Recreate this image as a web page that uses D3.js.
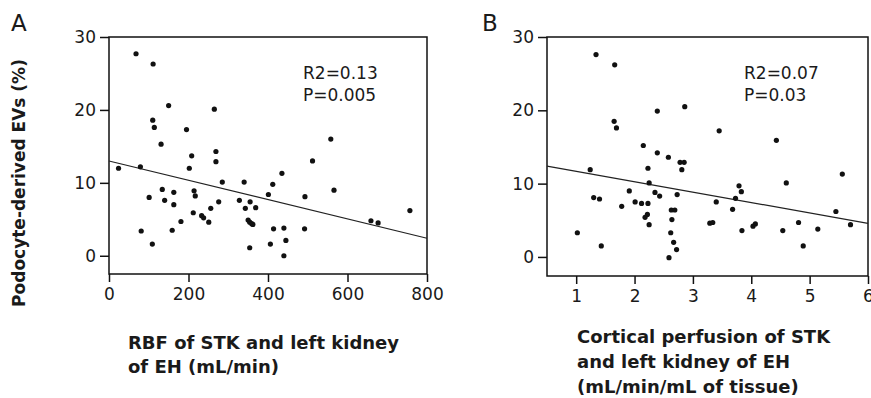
<!DOCTYPE html>
<html>
<head>
<meta charset="utf-8">
<script src="https://cdn.jsdelivr.net/npm/d3@7"></script>
<style>
  body { margin: 0; background: #fff; }
  svg text { font-family: "DejaVu Sans", "Liberation Sans", Arial, sans-serif; fill: #1a1a1a; }
</style>
</head>
<body>
<svg id="chart" width="871" height="398"></svg>
<script>
// panel A: RBF (mL/min) vs podocyte-derived EVs (%)
var rbf = [24, 68, 79, 81, 101, 111, 110, 114, 109, 131, 134, 140, 150, 159, 163, 163, 181, 195, 202, 208,
    214, 217, 212, 233, 238, 251, 256, 265, 269, 269, 276, 285, 328, 340, 343, 355, 350, 354, 359, 362,
    369, 354, 401, 412, 435, 414, 406, 440, 445, 440, 493, 492, 512, 558, 566, 659, 677, 757];
var evsA = [12.0, 27.7, 12.2, 3.4, 8.0, 26.3, 18.6, 17.6, 1.6, 15.3, 9.1, 7.6, 20.6, 3.5, 8.7, 7.0, 4.7, 17.3, 12.0, 13.7,
    8.9, 8.2, 5.9, 5.5, 5.2, 4.6, 6.5, 20.1, 14.3, 12.9, 7.4, 10.1, 7.6, 10.1, 6.5, 7.4, 4.9, 4.6, 4.4, 4.3,
    6.6, 1.1, 8.4, 9.8, 11.3, 3.7, 1.6, 3.8, 2.1, 0.0, 8.1, 3.7, 13.0, 16.0, 9.0, 4.8, 4.5, 6.2];
var fitA = { intercept: 13.0, slope: -0.01325 };
var statsA = ["R2=0.13", "P=0.005"];

// panel B: cortical perfusion vs podocyte-derived EVs (%)
var perf = [1.02, 1.24, 1.30, 1.40, 1.34, 1.43, 1.66, 1.65, 1.69, 1.78, 1.91, 2.01, 2.12, 2.15, 2.23, 2.22, 2.18, 2.25,
    2.23, 2.25, 2.35, 2.39, 2.39, 2.43, 2.58, 2.59, 2.62, 2.64, 2.63, 2.69, 2.67, 2.72, 2.73, 2.78, 2.85, 2.81,
    2.86, 3.29, 3.34, 3.40, 3.45, 3.68, 3.73, 3.79, 3.83, 3.84, 4.03, 4.07, 4.43, 4.54, 4.60, 4.81, 4.89, 5.14,
    5.45, 5.56, 5.70];
var evsB = [3.3, 11.9, 8.1, 7.9, 27.6, 1.5, 26.2, 18.5, 17.6, 6.9, 9.0, 7.5, 7.3, 15.2, 7.3, 5.8, 5.4, 4.4,
    12.1, 10.1, 8.8, 14.2, 19.9, 8.3, 13.6, -0.1, 3.3, 5.1, 6.4, 6.4, 2.0, 1.0, 8.5, 12.9, 12.9, 11.9,
    20.5, 4.6, 4.7, 7.5, 17.2, 6.5, 8.0, 9.7, 8.9, 3.6, 4.2, 4.5, 15.9, 3.6, 10.1, 4.7, 1.5, 3.8,
    6.2, 11.3, 4.4];
var fitB = { intercept: 13.1, slope: -1.42 };
var statsB = ["R2=0.07", "P=0.03"];

var yTicks = [0, 10, 20, 30];
var xTicksA = [0, 200, 400, 600, 800];
var xTicksB = [1, 2, 3, 4, 5, 6];

var svg = d3.select("#chart");

function draw_panel(p) {
    var x = d3.scaleLinear().domain(p.xDomain).range([p.left, p.right]);
    var y = d3.scaleLinear().domain(p.yDomain).range([p.bottom, p.top]);
    var g = svg.append("g");

    // frame
    g.append("rect")
        .attr("x", p.left)
        .attr("y", p.top)
        .attr("width", p.right - p.left)
        .attr("height", p.bottom - p.top)
        .style("fill", "none")
        .style("stroke", "#111")
        .style("stroke-width", 1.5);

    var yAxis = g.append("g")
        .attr("transform", "translate(" + p.left + ",0)")
        .call(d3.axisLeft(y).tickValues(yTicks).tickFormat(d3.format("d")).tickSize(9).tickPadding(4));
    var xAxis = g.append("g")
        .attr("transform", "translate(0," + p.bottom + ")")
        .call(d3.axisBottom(x).tickValues(p.xTicks).tickFormat(d3.format("d")).tickSize(8).tickPadding(6));

    [xAxis, yAxis].forEach(function (a) {
        a.select(".domain").remove();
        a.selectAll(".tick line").style("stroke", "#111").style("stroke-width", 1.5);
        a.selectAll(".tick text")
            .style("font-size", "17px")
            .style("font-family", "\"DejaVu Sans\", sans-serif")
            .style("fill", "#1a1a1a");
    });

    // regression line
    g.append("line")
        .attr("x1", x(p.xDomain[0]))
        .attr("y1", y(p.fit.intercept + p.fit.slope * p.xDomain[0]))
        .attr("x2", x(p.xDomain[1]))
        .attr("y2", y(p.fit.intercept + p.fit.slope * p.xDomain[1]))
        .style("stroke", "#222")
        .style("stroke-width", 1.2);

    g.selectAll(".dot")
        .data(p.xs)
        .join("circle")
        .attr("class", "dot")
        .attr("cx", function (d) { return x(d); })
        .attr("cy", function (d, i) { return y(p.ys[i]); })
        .attr("r", 2.6)
        .style("fill", "#111");

    g.selectAll(".stat")
        .data(p.stats)
        .join("text")
        .attr("class", "stat")
        .attr("x", p.statX)
        .attr("y", function (d, i) { return 79 + i * 22; })
        .style("font-size", "17px")
        .text(function (d) { return d; });

    g.append("text")
        .attr("x", p.letterX)
        .attr("y", 31)
        .style("font-size", "23px")
        .text(p.letter);

    g.selectAll(".xtitle")
        .data(p.title)
        .join("text")
        .attr("class", "xtitle")
        .attr("x", p.titleX)
        .attr("y", function (d, i) { return p.titleY + i * p.titleGap; })
        .style("font-size", "18px")
        .style("font-weight", "bold")
        .text(function (d) { return d; });
}

draw_panel({
    left: 109, right: 427, top: 37, bottom: 274,
    xDomain: [0, 800], yDomain: [-2.5, 30], xTicks: xTicksA,
    xs: rbf, ys: evsA, fit: fitA, stats: statsA, statX: 303,
    letter: "A", letterX: 11,
    title: ["RBF of STK and left kidney", "of EH (mL/min)"], titleX: 128, titleY: 349, titleGap: 24
});

draw_panel({
    left: 547, right: 868, top: 37, bottom: 276,
    xDomain: [0.5, 6], yDomain: [-2.6, 30], xTicks: xTicksB,
    xs: perf, ys: evsB, fit: fitB, stats: statsB, statX: 744,
    letter: "B", letterX: 482,
    title: ["Cortical perfusion of STK", "and left kidney of EH", "(mL/min/mL of tissue)"], titleX: 577, titleY: 343, titleGap: 25
});

// shared y title
svg.append("text")
    .attr("transform", "translate(25,183) rotate(-90)")
    .attr("text-anchor", "middle")
    .style("font-size", "17px")
    .style("font-weight", "bold")
    .text("Podocyte-derived EVs (%)");
</script>
</body>
</html>
